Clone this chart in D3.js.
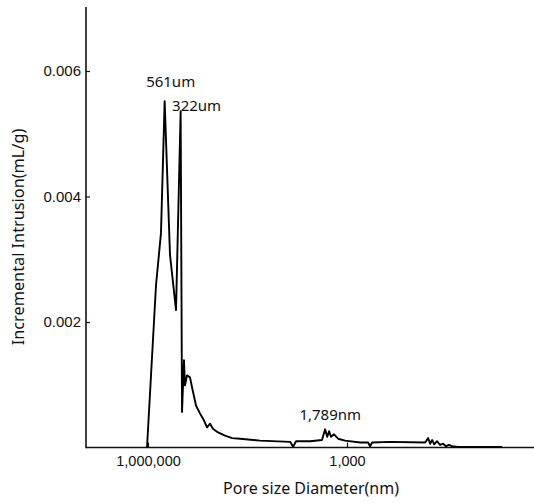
<!DOCTYPE html>
<html>
<head>
<meta charset="utf-8">
<script src="https://cdn.jsdelivr.net/npm/d3@7"></script>
<style>
  body { margin: 0; background: #fff; }
  svg { display: block; font-family: "Noto Sans", sans-serif; }
</style>
</head>
<body>
<div id="chart"></div>
<script>
// pore diameter (nm) and incremental intrusion (mL/g)
let diameters = [1035000, 757000, 637000, 561000, 466000, 378000, 322000, 307000,
    287000, 277000, 258000, 233000, 217000, 189000, 164000, 143000, 129000, 116000,
    105000, 88000, 69000, 54000, 41000, 20500, 7200, 6500, 5860, 3600, 2380, 2140,
    1990, 1860, 1740, 1570, 1360, 1070, 632, 481, 449, 418, 224, 66.4, 59.8, 55.8,
    52, 48.5, 43.8, 39.5, 35.6, 32.2, 29, 26.2, 21.3, 4.58];
let intrusion = [0, 0.00259, 0.00342, 0.00552, 0.00307, 0.00219, 0.00536, 0.000565,
    0.00139, 0.00099, 0.00115, 0.00112, 0.00096, 0.00067, 0.00054, 0.00043, 0.00032, 0.00038,
    0.0003, 0.00024, 0.00019, 0.00015, 0.00014, 0.00011, 0.00009, 0.000013, 0.0001, 0.0001, 0.00012, 0.00029,
    0.00017, 0.00026, 0.00017, 0.00021, 0.00014, 0.00011, 0.00008, 0.00008, 0.00002, 0.00008, 0.00009, 0.00008, 0.00015, 0.00006,
    0.00012, 0.00005, 0.0001, 0.00004, 0.00006, 0.00002, 0.00004, 0.00002, 0.000008, 0.000008];

let xTicks = [1000000, 1000, 1];
let yTicks = [0.002, 0.004, 0.006];

let peakLabels = [
    {d: 561000, v: 0.00552, text: '561um', dx: 6, dy: -14},
    {d: 322000, v: 0.00536, text: '322um', dx: 16, dy: 0},
    {d: 1789, v: 0.00029, text: '1,789nm', dx: 0, dy: -9}
];

let width = 534,
    height = 503,
    axisLeftX = 86,
    axisRightX = 534,
    axisTopY = 7;

let svg = d3.select('#chart').append('svg')
    .attr('width', width)
    .attr('height', height);

let xScale = d3.scaleLog()
    .domain([1000000, 1])
    .range([148, 546]);

let yScale = d3.scaleLinear()
    .domain([0, 0.007])
    .range([447.5, 8.25]);

// axes
let xAxis = svg.append('g')
    .attr('transform', `translate(0, ${yScale(0)})`)
    .call(d3.axisBottom(xScale)
        .tickValues(xTicks)
        .tickFormat(d3.format(','))
        .tickSizeInner(-5)
        .tickSizeOuter(0)
        .tickPadding(8));
xAxis.select('.domain').remove();
xAxis.selectAll('text').attr('font-size', 14.5).attr('fill', '#111').attr('font-family', null);
xAxis.selectAll('line').attr('stroke', '#111').attr('stroke-width', 1.2);

let yAxis = svg.append('g')
    .attr('transform', `translate(${axisLeftX}, 0)`)
    .call(d3.axisLeft(yScale)
        .tickValues(yTicks)
        .tickFormat(d3.format('.3f'))
        .tickSizeInner(-4)
        .tickSizeOuter(0)
        .tickPadding(5));
yAxis.select('.domain').remove();
yAxis.selectAll('text').attr('font-size', 15).attr('fill', '#111').attr('font-family', null);
yAxis.selectAll('line').attr('stroke', '#111').attr('stroke-width', 1.2);

svg.append('line')
    .attr('x1', axisLeftX).attr('x2', axisRightX)
    .attr('y1', yScale(0)).attr('y2', yScale(0))
    .attr('stroke', '#111').attr('stroke-width', 1.6);

svg.append('line')
    .attr('x1', axisLeftX).attr('x2', axisLeftX)
    .attr('y1', axisTopY).attr('y2', yScale(0) + 0.8)
    .attr('stroke', '#111').attr('stroke-width', 1.6);

// curve
let points = diameters.map((d, i) => [d, intrusion[i]]);

svg.append('path')
    .datum(points)
    .attr('fill', 'none')
    .attr('stroke', '#000')
    .attr('stroke-width', 1.9)
    .attr('stroke-linejoin', 'round')
    .attr('d', d3.line()
        .x(p => xScale(p[0]))
        .y(p => yScale(p[1])));

// peak annotations
svg.selectAll('.peak')
    .data(peakLabels)
    .join('text')
    .attr('class', 'peak')
    .attr('x', d => xScale(d.d) + d.dx)
    .attr('y', d => yScale(d.v) + d.dy)
    .attr('text-anchor', 'middle')
    .attr('font-size', 15)
    .attr('fill', '#111')
    .text(d => d.text);

// axis titles
svg.append('text')
    .attr('x', 311)
    .attr('y', 494)
    .attr('text-anchor', 'middle')
    .attr('font-size', 16)
    .attr('fill', '#111')
    .text('Pore size Diameter(nm)');

svg.append('text')
    .attr('transform', 'translate(24, 237) rotate(-90)')
    .attr('text-anchor', 'middle')
    .attr('font-size', 16.3)
    .attr('fill', '#111')
    .text('Incremental Intrusion(mL/g)');
</script>
</body>
</html>
